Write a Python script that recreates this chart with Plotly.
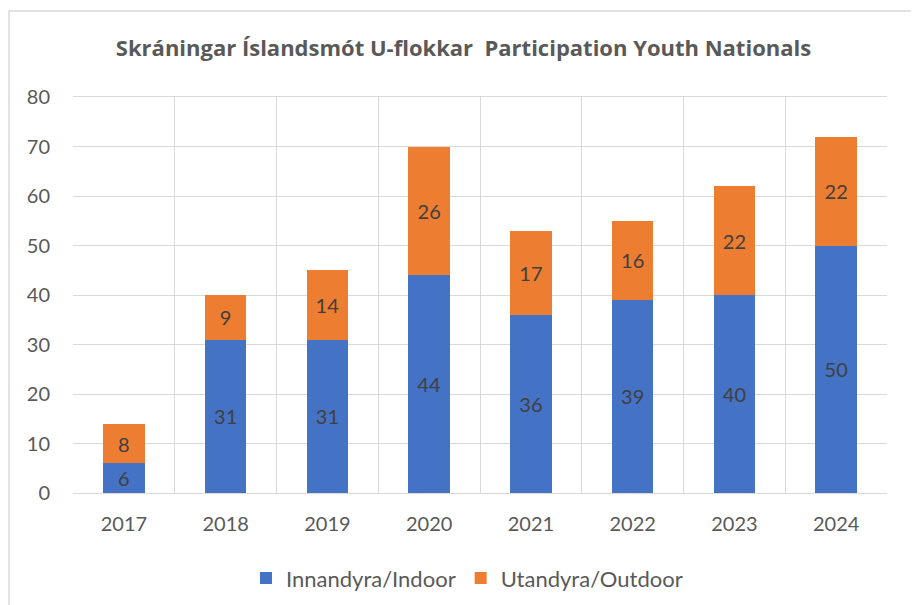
import plotly.graph_objects as go

years = ["2017", "2018", "2019", "2020", "2021", "2022", "2023", "2024"]
indoor = [6, 31, 31, 44, 36, 39, 40, 50]
outdoor = [8, 9, 14, 26, 17, 16, 22, 22]
y_ticks = [0, 10, 20, 30, 40, 50, 60, 70, 80]

FONT = "Lato, 'Open Sans', sans-serif"
fig = go.Figure()
fig.add_trace(go.Bar(
    x=years, y=indoor, name="Innandyra/Indoor",
    marker=dict(color="#4472C4", line=dict(width=0)),
    text=indoor, textposition="inside", insidetextanchor="middle", textangle=0,
    textfont=dict(size=20, color="#404040", family=FONT), width=0.41,
))
fig.add_trace(go.Bar(
    x=years, y=outdoor, name="Utandyra/Outdoor",
    marker=dict(color="#ED7D31", line=dict(width=0)),
    text=outdoor, textposition="inside", insidetextanchor="middle", textangle=0,
    textfont=dict(size=20, color="#404040", family=FONT), width=0.41,
))

fig.update_layout(
    barmode="stack",
    width=911, height=597,
    margin=dict(l=65, r=32, t=89, b=112, autoexpand=False),
    paper_bgcolor="white", plot_bgcolor="white",
    font=dict(family=FONT, color="#595959", size=20),
    title=dict(
        text="<b>Skráningar Íslandsmót U-flokkar  Participation Youth Nationals</b>",
        x=0.5, xanchor="center", y=0.933, yanchor="middle",
        font=dict(size=22, color="#595959", family="'Open Sans', sans-serif"),
    ),
    uniformtext=dict(minsize=20, mode="show"),
    legend=dict(
        orientation="h", x=0.484, xanchor="center",
        yref="container", y=0.045, yanchor="middle",
        font=dict(size=22, color="#595959", family=FONT),
        itemwidth=30, traceorder="normal",
    ),
    xaxis=dict(
        type="category", tickson="boundaries", showgrid=True,
        gridcolor="#D9D9D9", gridwidth=1, ticks="", showline=True,
        linecolor="#D9D9D9", mirror=True, tickfont=dict(size=20, color="#595959"),
        ticklabelstandoff=13,
    ),
    yaxis=dict(
        range=[0, 80], tickvals=y_ticks, showgrid=True, gridcolor="#D9D9D9",
        gridwidth=1, zeroline=False, showline=False, ticks="",
        tickfont=dict(size=20, color="#595959"), ticklabelstandoff=22,
    ),
    shapes=[dict(
        type="rect", xref="paper", yref="paper",
        x0=-0.0786, x1=1.0356, y0=-0.35, y1=1.217,
        line=dict(color="#D9D9D9", width=1.5), fillcolor="rgba(0,0,0,0)", layer="below",
    )],
)

fig.write_html("out.html")
